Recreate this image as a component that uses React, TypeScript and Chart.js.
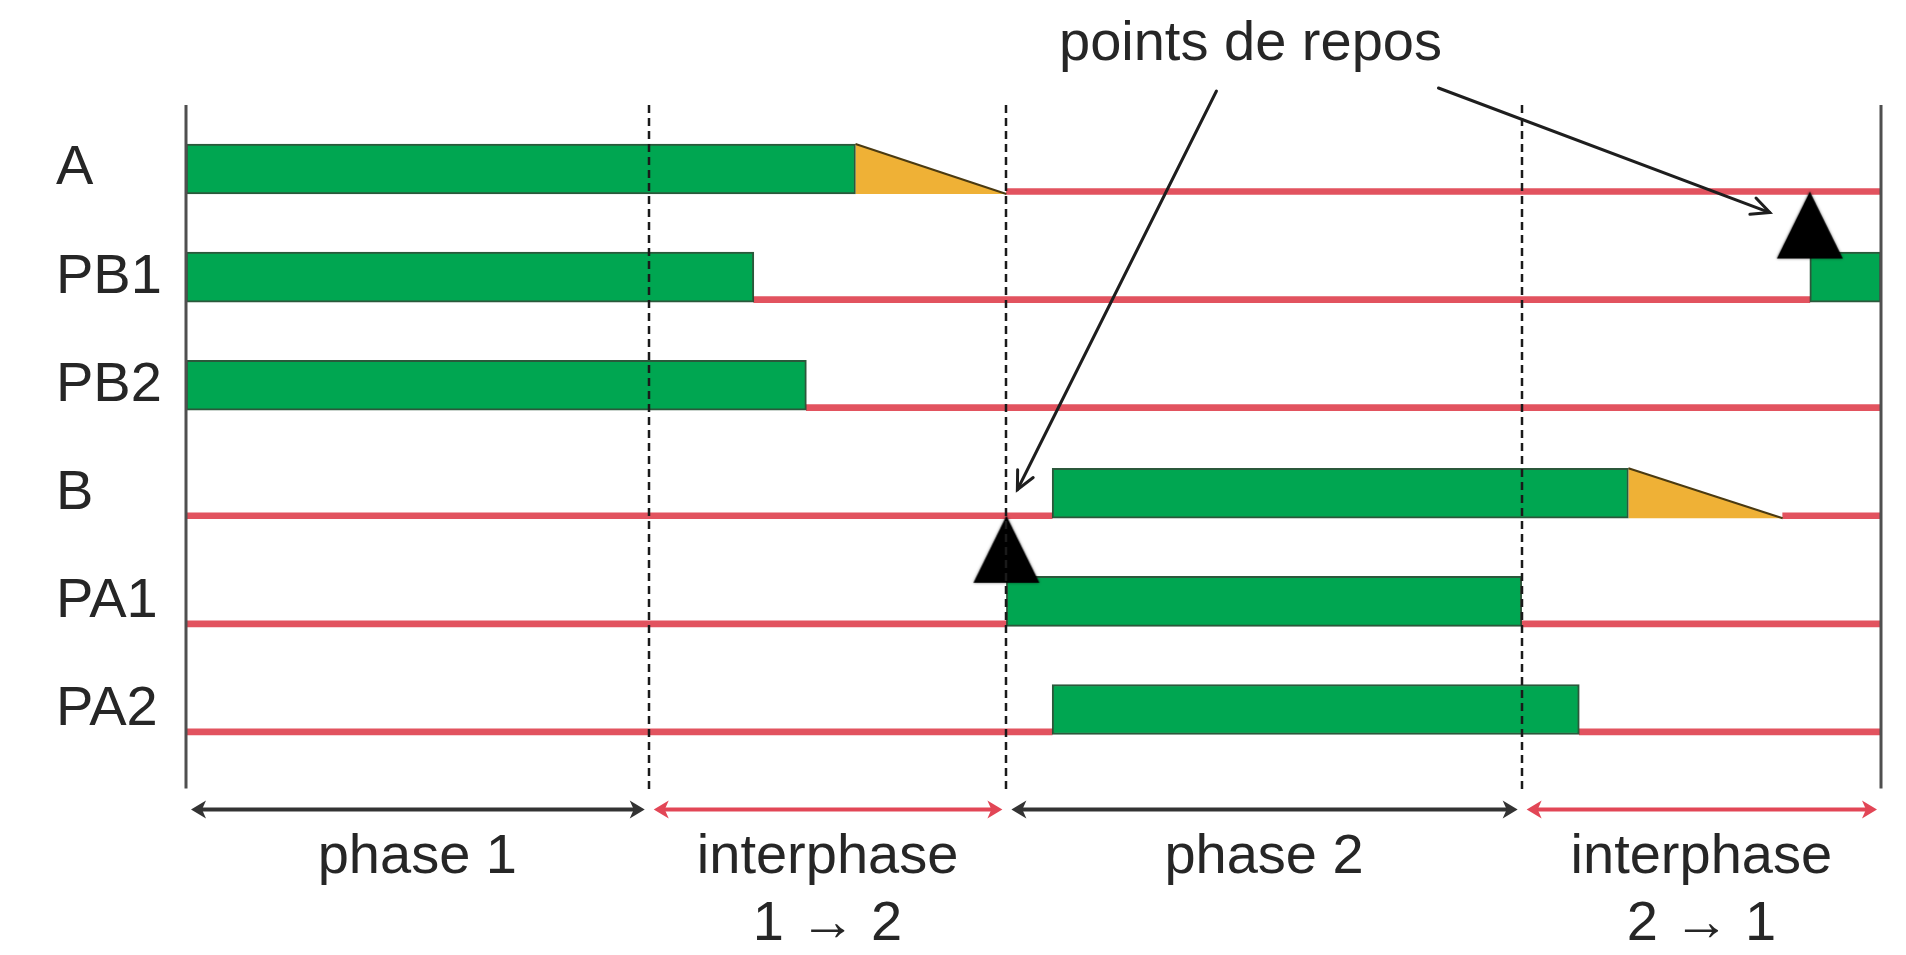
import React, { useEffect, useRef } from 'react';
import { Chart, registerables } from 'chart.js';

Chart.register(...registerables);

// ---- data (time in % of the cycle) ----
const rowLabels = ['A', 'PB1', 'PB2', 'B', 'PA1', 'PA2'];
const runStart = [0, 0, 0, 51.1, 48.4, 51.1];
const runEnd = [39.5, 33.5, 36.6, 85.1, 78.8, 82.2];
const rampEnd: (number | null)[] = [48.4, null, null, 94.2, null, null];
const restartStart: (number | null)[] = [null, 95.8, null, null, null, null];
const restartEnd: (number | null)[] = [null, 100, null, null, null, null];
const idleRow = [0, 1, 2, 3, 3, 4, 4, 5, 5];
const idleStart = [48.4, 33.5, 36.6, 0, 94.2, 0, 78.8, 0, 82.2];
const idleEnd = [100, 95.8, 100, 51.1, 100, 48.4, 100, 51.1, 100];
const restRow = [3, 0];
const restTime = [48.4, 95.8];
const phaseBounds = [0, 27.3, 48.4, 78.8, 100];
const phaseLabels = [['phase 1'], ['interphase', '1 → 2'], ['phase 2'], ['interphase', '2 → 1']];
const phaseIsTransition = [false, true, false, true];
const calloutText = 'points de repos';
const calloutTime = 62.8;

const FONT = '"Liberation Sans", Arial, Helvetica, sans-serif';
const TEXT = '#262626';
const GREEN = '#00a651';
const GREEN_EDGE = 'rgba(20,70,38,0.9)';
const ORANGE = '#efb136';
const RED = '#e2535f';
const ARROW_RED = '#e24656';
const ARROW_BLACK = '#333333';
const RAMP_HALF = 25 / 108.1; // half bar thickness in row units
const RED_OFFSET = 22.5 / 108.1; // idle line sits on the bar bottom

function arrowHead(ctx: CanvasRenderingContext2D, tipX: number, y: number, dir: number, color: string) {
  ctx.fillStyle = color;
  ctx.beginPath();
  ctx.moveTo(tipX, y);
  ctx.lineTo(tipX - dir * 15, y - 9);
  ctx.lineTo(tipX - dir * 11, y);
  ctx.lineTo(tipX - dir * 15, y + 9);
  ctx.closePath();
  ctx.fill();
}

function openArrow(ctx: CanvasRenderingContext2D, x1: number, y1: number, x2: number, y2: number) {
  ctx.beginPath();
  ctx.moveTo(x1, y1);
  ctx.lineTo(x2, y2);
  ctx.stroke();
  const th = Math.atan2(y2 - y1, x2 - x1);
  const L = 20;
  const phi = 0.45;
  ctx.beginPath();
  ctx.moveTo(x2 - L * Math.cos(th - phi), y2 - L * Math.sin(th - phi));
  ctx.lineTo(x2, y2);
  ctx.lineTo(x2 - L * Math.cos(th + phi), y2 - L * Math.sin(th + phi));
  ctx.stroke();
}

const decor = {
  id: 'decor',
  afterDatasetsDraw(chart: any) {
    const { ctx, chartArea: a } = chart;
    const xs = chart.scales.x;
    ctx.save();
    ctx.strokeStyle = '#4f4f4f';
    ctx.lineWidth = 3;
    [a.left, a.right].forEach((px: number) => {
      ctx.beginPath();
      ctx.moveTo(px, a.top - 10);
      ctx.lineTo(px, a.bottom + 25);
      ctx.stroke();
    });
    ctx.strokeStyle = '#1a1a1a';
    ctx.lineWidth = 2.5;
    ctx.setLineDash([8, 5]);
    phaseBounds.slice(1, -1).forEach((v) => {
      const px = Math.round(xs.getPixelForValue(v));
      ctx.beginPath();
      ctx.moveTo(px, a.top - 10);
      ctx.lineTo(px, a.bottom + 30);
      ctx.stroke();
    });
    ctx.restore();
  },
  afterDraw(chart: any) {
    const { ctx, chartArea: a } = chart;
    const xs = chart.scales.x;
    const y2 = chart.scales.y2;
    ctx.save();
    // phase arrows
    const ay = a.bottom + 46;
    for (let k = 0; k < phaseBounds.length - 1; k++) {
      const x1 = xs.getPixelForValue(phaseBounds[k]) + 5;
      const x2 = xs.getPixelForValue(phaseBounds[k + 1]) - 4;
      const col = phaseIsTransition[k] ? ARROW_RED : ARROW_BLACK;
      ctx.strokeStyle = col;
      ctx.lineWidth = 4;
      ctx.beginPath();
      ctx.moveTo(x1 + 10, ay);
      ctx.lineTo(x2 - 10, ay);
      ctx.stroke();
      arrowHead(ctx, x1, ay, -1, col);
      arrowHead(ctx, x2, ay, 1, col);
    }
    // callout
    const tx = xs.getPixelForValue(calloutTime);
    ctx.fillStyle = TEXT;
    ctx.font = `56px ${FONT}`;
    ctx.textAlign = 'center';
    ctx.textBaseline = 'alphabetic';
    ctx.fillText(calloutText, tx, a.top - 55);
    ctx.strokeStyle = '#1e1e1e';
    ctx.lineWidth = 3;
    ctx.lineCap = 'round';
    const starts = [[tx - 34, a.top - 24], [tx + 188, a.top - 27]];
    const tipOff = [[11, -26], [-40, 21]];
    restRow.forEach((r, i) => {
      const px = xs.getPixelForValue(restTime[i]);
      const py = y2.getPixelForValue(r + RED_OFFSET);
      openArrow(ctx, starts[i][0], starts[i][1], px + tipOff[i][0], py + tipOff[i][1]);
    });
    ctx.restore();
  },
};

export default function App() {
  const ref = useRef<HTMLCanvasElement>(null);
  useEffect(() => {
    const canvas = ref.current;
    if (!canvas) return;

    const tri = document.createElement('canvas');
    tri.width = 80;
    tri.height = 150;
    const tc = tri.getContext('2d')!;
    tc.shadowColor = 'rgba(0,0,0,0.55)';
    tc.shadowBlur = 3;
    tc.fillStyle = '#000';
    tc.beginPath();
    tc.moveTo(40, 75);
    tc.lineTo(73, 142);
    tc.lineTo(7, 142);
    tc.closePath();
    tc.fill();

    const phaseMid = phaseBounds.slice(0, -1).map((b, i) => (b + phaseBounds[i + 1]) / 2);

    const ramps = rowLabels
      .map((_, i) =>
        rampEnd[i] == null
          ? null
          : {
              type: 'line',
              label: 'ramp ' + rowLabels[i],
              indexAxis: 'x',
              xAxisID: 'x',
              yAxisID: 'y2',
              data: [
                { x: runEnd[i], y: i - RAMP_HALF },
                { x: rampEnd[i], y: i + RAMP_HALF },
              ],
              fill: { value: i + RAMP_HALF },
              backgroundColor: ORANGE,
              borderColor: '#4a3a12',
              borderWidth: 2,
              pointRadius: 0,
              tension: 0,
              order: 2,
            }
      )
      .filter(Boolean);

    const datasets: any[] = [
      {
        type: 'bar',
        label: 'idle',
        indexAxis: 'y',
        xAxisID: 'x',
        yAxisID: 'y2',
        data: idleRow.map((r, i) => ({ x: [idleStart[i], idleEnd[i]], y: r + RED_OFFSET })),
        backgroundColor: RED,
        borderWidth: 0,
        barThickness: 6,
        grouped: false,
        order: 5,
      },
      {
        type: 'bar',
        label: 'run',
        indexAxis: 'y',
        xAxisID: 'x',
        yAxisID: 'y',
        data: runStart.map((s, i) => [s, runEnd[i]]),
        backgroundColor: GREEN,
        borderColor: GREEN_EDGE,
        borderWidth: 2,
        borderSkipped: false,
        barThickness: 50,
        grouped: false,
        order: 3,
      },
      {
        type: 'bar',
        label: 'restart',
        indexAxis: 'y',
        xAxisID: 'x',
        yAxisID: 'y',
        data: restartStart.map((s, i) => (s == null ? null : [s, restartEnd[i]])),
        backgroundColor: GREEN,
        borderColor: GREEN_EDGE,
        borderWidth: 2,
        borderSkipped: false,
        barThickness: 50,
        grouped: false,
        order: 3,
      },
      ...ramps,
      {
        type: 'line',
        label: 'rest',
        indexAxis: 'x',
        xAxisID: 'x',
        yAxisID: 'y2',
        showLine: false,
        data: restRow.map((r, i) => ({ x: restTime[i], y: r + RED_OFFSET })),
        pointStyle: tri,
        pointRadius: 5,
        order: 1,
      },
    ];

    const chart = new Chart(canvas, {
      type: 'bar',
      data: { labels: rowLabels, datasets },
      options: {
        indexAxis: 'y',
        animation: false,
        responsive: true,
        maintainAspectRatio: false,
        devicePixelRatio: 1,
        events: [],
        layout: { padding: { left: 56, right: 25, top: 115, bottom: 0 } },
        plugins: { legend: { display: false }, tooltip: { enabled: false }, title: { display: false } },
        scales: {
          x: {
            type: 'linear',
            axis: 'x',
            position: 'bottom',
            offset: false,
            min: phaseBounds[0],
            max: phaseBounds[phaseBounds.length - 1],
            grid: { display: false, drawTicks: false },
            border: { display: false },
            afterBuildTicks: (s: any) => {
              s.ticks = phaseMid.map((v) => ({ value: v }));
            },
            afterFit: (s: any) => {
              s.height = 191.5;
            },
            ticks: {
              autoSkip: false,
              maxRotation: 0,
              minRotation: 0,
              padding: 60,
              color: TEXT,
              font: { family: FONT, size: 56, lineHeight: 1.2 },
              callback: (_v: any, i: number) => phaseLabels[i],
            },
          },
          y: {
            type: 'category',
            position: 'left',
            offset: true,
            grid: { display: false, drawTicks: false },
            border: { display: false },
            afterFit: (s: any) => {
              s.width = 130;
            },
            ticks: {
              crossAlign: 'far',
              padding: 0,
              color: TEXT,
              font: { family: FONT, size: 56 },
            },
          },
          y2: {
            type: 'linear',
            axis: 'y',
            position: 'left',
            display: false,
            offset: false,
            grace: 0,
            min: -0.5,
            max: 5.5,
            reverse: true,
            grid: { offset: false },
          },
        },
      } as any,
      plugins: [decor],
    } as any);
    return () => chart.destroy();
  }, []);

  return (
    <div style={{ position: 'fixed', left: 0, top: 0, width: '100vw', height: '100vh', background: '#ffffff' }}>
      <canvas ref={ref} />
    </div>
  );
}
